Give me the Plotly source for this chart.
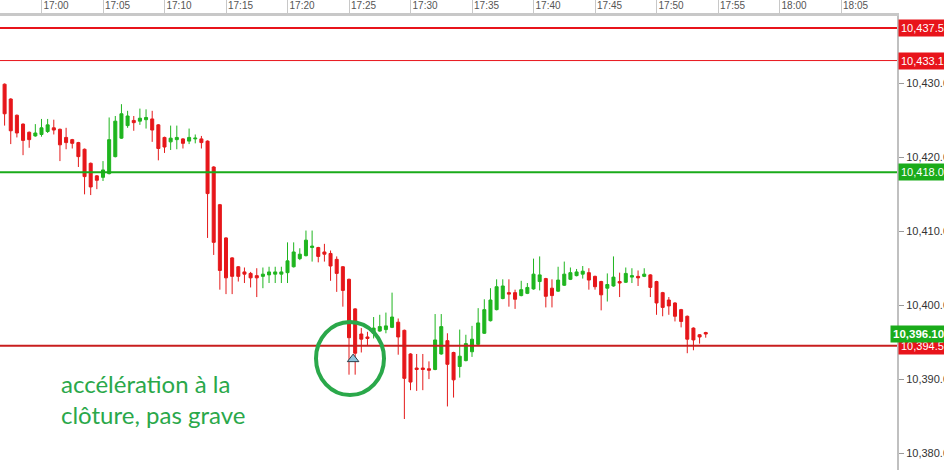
import pandas as pd
import plotly.graph_objects as go

# ---- data (30-second candles) ----
opens = [10429.9,10427.9,10425.7,10424.5,10423.4,10422.9,10423.1,10423.5,10424.0,10423.8,
         10422.7,10422.4,10422.0,10421.1,10419.2,10417.5,10417.3,10417.8,10420.1,10422.6,
         10424.3,10425.0,10424.9,10425.1,10425.2,10424.4,10422.7,10422.1,10422.4,10422.5,
         10422.2,10422.5,10422.5,10422.2,10418.7,10413.6,10409.1,10406.4,10405.2,10404.5,
         10404.3,10404.0,10403.9,10404.1,10404.2,10404.2,10404.4,10405.2,10406.3,10406.7,
         10407.8,10407.8,10407.2,10407.0,10406.2,10405.2,10403.5,10399.5,10396.1,10395.7,
         10396.2,10396.5,10396.7,10397.0,10397.7,10396.6,10393.4,10391.5,10391.5,10391.4,
         10391.3,10393.4,10395.2,10393.6,10391.7,10392.5,10393.7,10394.7,10396.2,10397.9,
         10399.4,10400.9,10401.7,10401.7,10401.3,10401.6,10402.2,10403.2,10403.6,10402.3,
         10401.9,10402.7,10403.5,10404.0,10404.2,10404.4,10403.9,10403.2,10402.3,10402.6,
         10403.2,10403.1,10403.8,10403.9,10403.9,10404.1,10403.2,10401.7,10400.7,10400.3,
         10399.4,10398.5,10396.9,10396.0,10396.3]
highs = [10430.0,10428.0,10425.8,10424.6,10423.5,10424.5,10425.2,10425.2,10425.1,10423.9,
         10424.0,10422.5,10422.1,10421.2,10419.3,10417.6,10419.5,10425.4,10425.6,10427.2,
         10426.3,10425.6,10426.6,10426.5,10426.3,10424.5,10422.8,10424.3,10424.3,10422.6,
         10423.9,10423.1,10422.9,10422.3,10418.8,10413.7,10409.2,10406.5,10405.3,10405.1,
         10404.5,10405.0,10405.1,10405.2,10405.2,10405.2,10408.5,10408.5,10407.7,10410.1,
         10410.1,10407.9,10408.3,10407.4,10406.6,10405.3,10403.6,10399.6,10396.9,10396.4,
         10398.4,10398.7,10399.0,10401.7,10398.2,10396.7,10393.5,10393.4,10393.4,10392.4,
         10398.8,10398.8,10396.2,10393.7,10396.7,10396.0,10397.2,10399.6,10400.8,10402.3,
         10403.5,10403.5,10403.5,10402.1,10403.3,10403.0,10406.3,10406.6,10403.7,10403.5,
         10405.2,10405.9,10405.1,10404.9,10405.3,10405.0,10404.0,10403.3,10404.3,10406.6,
         10404.4,10405.1,10405.0,10404.7,10405.0,10404.2,10403.3,10401.8,10401.1,10400.4,
         10399.5,10398.6,10397.0,10396.1,10396.4]
lows = [10424.3,10421.8,10422.7,10420.3,10421.3,10422.8,10422.8,10423.3,10423.1,10419.5,
        10421.1,10421.2,10418.7,10415.0,10414.9,10415.7,10416.8,10417.7,10420.0,10422.5,
        10424.0,10423.6,10424.4,10423.9,10422.1,10419.6,10420.6,10421.0,10421.1,10421.2,
        10421.8,10421.9,10421.2,10409.1,10406.8,10402.1,10401.5,10401.5,10403.2,10403.0,
        10402.4,10401.1,10402.3,10403.0,10403.0,10403.0,10403.0,10405.1,10406.1,10406.6,
        10405.9,10405.8,10405.9,10403.3,10401.8,10399.8,10390.6,10390.6,10393.6,10394.6,
        10395.5,10396.4,10396.2,10396.9,10393.3,10384.6,10388.5,10388.4,10388.5,10390.0,
        10391.2,10393.3,10386.3,10387.5,10390.2,10392.4,10393.0,10394.6,10396.1,10397.8,
        10399.3,10400.8,10399.8,10399.5,10401.2,10401.5,10402.1,10402.0,10399.7,10399.7,
        10401.8,10402.6,10403.4,10403.9,10403.6,10402.1,10402.1,10399.3,10400.5,10402.5,
        10401.1,10403.0,10403.0,10402.6,10403.8,10401.1,10398.7,10398.5,10398.7,10397.8,
        10397.0,10393.5,10393.9,10394.8,10395.6]
closes = [10425.9,10423.6,10423.3,10422.3,10422.4,10423.3,10424.0,10424.4,10423.7,10421.7,
          10422.0,10421.9,10420.1,10417.4,10416.0,10416.9,10418.3,10422.4,10424.9,10425.9,
          10425.6,10424.7,10425.3,10425.4,10423.7,10421.2,10421.4,10422.6,10422.7,10421.9,
          10422.7,10422.6,10422.0,10415.1,10408.5,10404.7,10403.7,10403.9,10403.9,10404.2,
          10403.7,10403.7,10404.2,10404.5,10404.5,10404.5,10406.0,10407.2,10406.9,10408.8,
          10408.0,10406.6,10406.9,10405.3,10404.3,10402.0,10395.6,10393.5,10395.4,10395.5,
          10396.9,10397.1,10397.2,10398.4,10395.7,10390.1,10389.6,10391.3,10391.3,10391.2,
          10395.3,10397.1,10392.0,10389.9,10393.1,10394.8,10395.4,10397.6,10399.4,10400.7,
          10402.5,10402.6,10401.5,10400.8,10402.1,10402.4,10404.2,10404.1,10401.2,10401.3,
          10403.4,10404.2,10404.4,10404.5,10404.6,10403.4,10402.5,10401.4,10402.8,10403.8,
          10403.0,10404.3,10404.0,10403.7,10404.2,10402.4,10400.3,10399.7,10399.9,10398.5,
          10397.8,10395.4,10395.3,10395.7,10396.1]
times = pd.date_range("2024-01-05 16:57:00", periods=len(opens), freq="30s")

# horizontal levels
level_prices = [10437.5, 10433.1, 10418.0, 10394.5]
level_colors = ["#e8141b", "#e8141b", "#1aab1a", "#c81e1e"]
label_colors = ["#e8141b", "#e8141b", "#1aab1a", "#e8141b"]
level_widths = [2, 1, 2, 2]
last_price = 10396.10
marker_time = ["2024-01-05 17:25:20"]
marker_price = [10392.7]
note_text = "accélération à la<br>clôture, pas grave"

fig = go.Figure()
fig.add_trace(go.Candlestick(
    x=times, open=opens, high=highs, low=lows, close=closes,
    increasing=dict(line=dict(color="#1fb51f", width=1), fillcolor="#1fb51f"),
    decreasing=dict(line=dict(color="#e41a1a", width=1), fillcolor="#e8141b"),
    whiskerwidth=0, hoverinfo="skip", showlegend=False))

fig.add_trace(go.Scatter(
    x=marker_time, y=marker_price, mode="markers",
    marker=dict(symbol="triangle-up", size=10, color="#8ec5dc",
                line=dict(color="#2d3f4a", width=1)),
    hoverinfo="skip", showlegend=False))

for p, c, lc, w in zip(level_prices, level_colors, label_colors, level_widths):
    fig.add_shape(type="line", xref="paper", x0=0, x1=1, yref="y", y0=p, y1=p,
                  line=dict(color=c, width=w), layer="above")
    fig.add_annotation(xref="paper", x=1, xanchor="left", yref="y", y=p,
                       text=f"{p:,.1f}", showarrow=False,
                       font=dict(family="Liberation Sans, Arial", size=11, color="white"),
                       bgcolor=lc, borderpad=2, xshift=1)

fig.add_annotation(xref="paper", x=1, xanchor="left", yref="y", y=last_price,
                   text=f"<b>{last_price:,.2f}</b>", showarrow=False,
                   font=dict(family="Liberation Sans, Arial", size=11.5, color="white"),
                   bgcolor="#1aab1a", borderpad=2, xshift=-7)

# circle highlighting the close
fig.add_shape(type="circle", xref="paper", yref="paper",
              x0=316/897, x1=384/897, y0=(470-395)/454, y1=(470-322)/454,
              line=dict(color="#2aa84a", width=4), layer="above")

fig.add_annotation(xref="paper", yref="paper", x=59/897, y=(470-398.5)/454,
                   xanchor="left", yanchor="middle", align="left", text=note_text,
                   showarrow=False,
                   font=dict(family="Lato, Open Sans", size=24, color="#2aa84a"))

fig.update_layout(
    width=944, height=470,
    margin=dict(l=0, r=47, t=16, b=0, autoexpand=False),
    plot_bgcolor="white", paper_bgcolor="white",
    showlegend=False,
    xaxis=dict(type="date", side="top", automargin=False,
               range=["2024-01-05 16:56:37.6", "2024-01-05 18:09:33"],
               showline=True, linecolor="#c8c8c8", linewidth=3,
               ticks="outside", ticklen=14, tickcolor="#c8c8c8", tickwidth=1,
               tick0="2024-01-05 17:00:00", dtick=300000, tickformat="%H:%M",
               tickfont=dict(family="Liberation Sans, Arial", size=10, color="#555"),
               ticklabelposition="outside right", ticklabelstandoff=0,
               showgrid=False, zeroline=False, rangeslider=dict(visible=False)),
    yaxis=dict(side="right", range=[10377.7, 10439.13], automargin=False,
               showline=True, linecolor="#c0c0c0", linewidth=2,
               ticks="outside", ticklen=5, tickcolor="#999",
               tick0=10380, dtick=10, tickformat=",.1f",
               tickfont=dict(family="Liberation Sans, Arial", size=11, color="#333"),
               showgrid=False, zeroline=False),
)

fig.write_html("out.html", config={"displayModeBar": False},
               post_script="document.body.style.margin='0';document.body.style.padding='0';")
